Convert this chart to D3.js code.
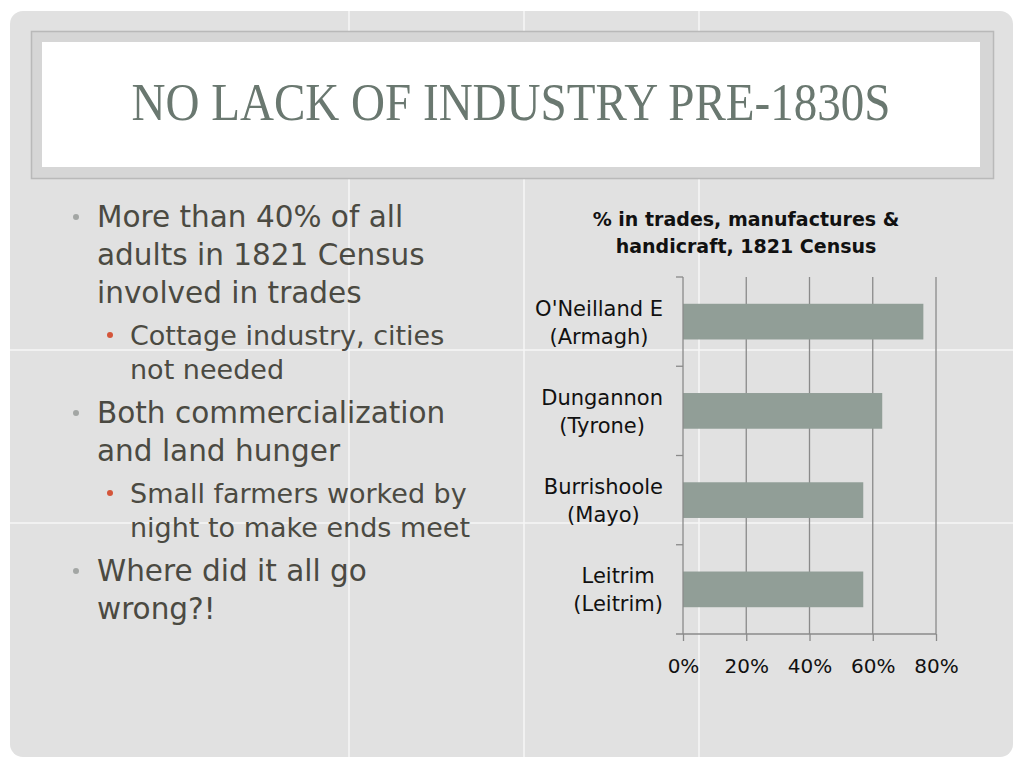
<!DOCTYPE html>
<html>
<head>
<meta charset="utf-8">
<script src="https://cdn.jsdelivr.net/npm/d3@7"></script>
<style>
  html, body { margin: 0; padding: 0; background: #ffffff; }
  svg { display: block; }
</style>
</head>
<body>
<svg id="slide" width="1024" height="768"></svg>
<script>
// ---- data ----
const slideTitle = "NO LACK OF INDUSTRY PRE-1830S";
const chartTitleLines = ["% in trades, manufactures &", "handicraft, 1821 Census"];
const categories = ["O'Neilland E (Armagh)", "Dungannon (Tyrone)", "Burrishoole (Mayo)", "Leitrim (Leitrim)"];
const categoryLines = [["O'Neilland E", "(Armagh)"], ["Dungannon", "(Tyrone)"], ["Burrishoole", "(Mayo)"], ["Leitrim", "(Leitrim)"]];
const values = [76, 63, 57, 57];
const xTicks = [0, 20, 40, 60, 80];
const bullets = [
  { level: 1, lines: ["More than 40% of all", "adults in 1821 Census", "involved in trades"] },
  { level: 2, lines: ["Cottage industry, cities", "not needed"] },
  { level: 1, lines: ["Both commercialization", "and land hunger"] },
  { level: 2, lines: ["Small farmers worked by", "night to make ends meet"] },
  { level: 1, lines: ["Where did it all go", "wrong?!"] }
];

const svg = d3.select("#slide");

// ---- slide background ----
svg.append("rect").attr("x", 10).attr("y", 11).attr("width", 1003).attr("height", 746)
  .attr("rx", 13).attr("fill", "#e1e1e1");
const bgLines = svg.append("g").attr("stroke", "#f6f6f6").attr("stroke-width", 1.5);
[349, 524, 699].forEach(x => bgLines.append("line").attr("x1", x).attr("x2", x).attr("y1", 11).attr("y2", 757));
[350, 523].forEach(y => bgLines.append("line").attr("x1", 10).attr("x2", 1013).attr("y1", y).attr("y2", y));

// ---- title box ----
svg.append("rect").attr("x", 31.5).attr("y", 31.5).attr("width", 962).attr("height", 147)
  .attr("fill", "#d6d6d6").attr("stroke", "#b9b9b9").attr("stroke-width", 1.5);
svg.append("rect").attr("x", 42).attr("y", 42).attr("width", 938).attr("height", 125).attr("fill", "#ffffff");
svg.append("text").attr("x", 511).attr("y", 120).attr("text-anchor", "middle")
  .attr("font-family", "'Liberation Serif', 'DejaVu Serif', serif").attr("font-size", 52)
  .attr("fill", "#6a7870").attr("textLength", 759).attr("lengthAdjust", "spacingAndGlyphs")
  .text(slideTitle);

// ---- bullet text ----
const bodyFont = "'DejaVu Sans', sans-serif";
let y = 227;
const bg = svg.append("g").attr("font-family", bodyFont);
bullets.forEach((b, i) => {
  const lvl1 = b.level === 1;
  const fs = lvl1 ? 29.5 : 27;
  const lh = lvl1 ? 38 : 34;
  if (i > 0) y += lvl1 ? (bullets[i-1].level === 1 ? 42 : 44) : 42;
  bg.append("circle").attr("cx", lvl1 ? 76 : 110).attr("cy", y - 10).attr("r", 3)
    .attr("fill", lvl1 ? "#a3a6a4" : "#d4553a");
  b.lines.forEach((ln, j) => {
    bg.append("text").attr("x", lvl1 ? 97 : 130).attr("y", y + j * lh)
      .attr("font-size", fs).attr("fill", "#4b4a42").text(ln);
  });
  y += (b.lines.length - 1) * lh;
});

// ---- chart ----
const chartFont = "'DejaVu Sans', sans-serif";
const x = d3.scaleLinear().domain([0, 80]).range([683, 936]);
const yBand = d3.scaleBand().domain(categories).range([277, 634]).paddingInner(0.6).paddingOuter(0.3);

const ct = svg.append("g").attr("font-family", chartFont).attr("font-weight", "bold")
  .attr("font-size", 19).attr("fill", "#111").attr("text-anchor", "middle");
chartTitleLines.forEach((t, i) => ct.append("text").attr("x", 746).attr("y", 226 + i * 27).text(t));

// gridlines
svg.append("g").selectAll("line").data(xTicks.slice(1)).join("line")
  .attr("x1", d => x(d)).attr("x2", d => x(d)).attr("y1", 277).attr("y2", 634)
  .attr("stroke", "#8a8a8a").attr("stroke-width", 1.3);

// bars
svg.append("g").selectAll("rect").data(values).join("rect")
  .attr("x", x(0)).attr("y", (d, i) => yBand(categories[i]))
  .attr("width", d => x(d) - x(0)).attr("height", yBand.bandwidth())
  .attr("fill", "#919e97");

// x axis
const xAxis = svg.append("g").attr("transform", "translate(0,634)")
  .call(d3.axisBottom(x).tickValues(xTicks).tickFormat(d => d + "%").tickSizeOuter(0).tickSize(7).tickPadding(18));
xAxis.select(".domain").attr("d", "M676,0H936").attr("stroke", "#8a8a8a").attr("stroke-width", 1.3);
xAxis.selectAll(".tick line").attr("stroke", "#8a8a8a").attr("stroke-width", 1.3);
xAxis.selectAll(".tick text").attr("font-family", chartFont).attr("font-size", 20).attr("fill", "#111");

// y axis (band boundaries ticks)
const yOuter = d3.scaleBand().domain(categories).range([277, 634]);
const yAxisG = svg.append("g");
yAxisG.append("line").attr("x1", x(0)).attr("x2", x(0)).attr("y1", 277).attr("y2", 634)
  .attr("stroke", "#8a8a8a").attr("stroke-width", 1.3);
yAxisG.selectAll("line.tk").data(categories).join("line").attr("class", "tk")
  .attr("x1", 676).attr("x2", x(0)).attr("y1", d => yOuter(d)).attr("y2", d => yOuter(d))
  .attr("stroke", "#8a8a8a").attr("stroke-width", 1.3);

// category labels (each block centred, block right edge aligned)
const lblG = svg.append("g").attr("font-family", chartFont).attr("font-size", 21).attr("fill", "#111");
categories.forEach((c, i) => {
  const cy = yBand(c) + yBand.bandwidth() / 2;
  const g = lblG.append("g");
  const texts = categoryLines[i].map((ln, j) =>
    g.append("text").attr("y", cy - 6 + j * 28).attr("text-anchor", "middle").text(ln));
  const maxW = d3.max(texts, t => t.node().getComputedTextLength());
  texts.forEach(t => t.attr("x", 663 - maxW / 2));
});
</script>
</body>
</html>
